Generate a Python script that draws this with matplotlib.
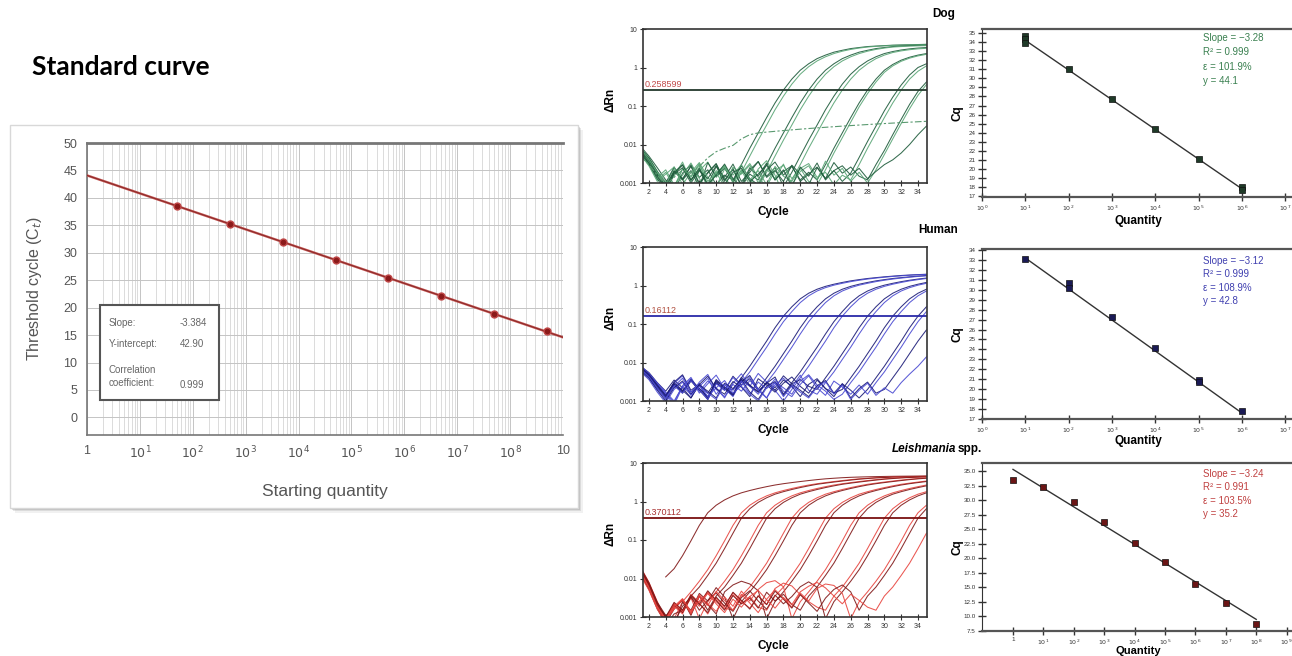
import numpy as np
import matplotlib.pyplot as plt
from matplotlib.patches import Rectangle
from matplotlib.ticker import NullLocator

plt.rcParams['font.family'] = ['Liberation Sans', 'DejaVu Sans']
nan = np.nan

# ---- left: standard curve ----
std_qty = [5e1, 5e2, 5e3, 5e4, 5e5, 5e6, 5e7, 5e8]
std_ct = [38.5, 35.2, 32.0, 28.7, 25.4, 22.1, 18.9, 15.7]
std_fit_x = [1, 1e9]
std_fit_y = [44.1, 14.6]
std_box = [('Slope:', '-3.384'), ('Y-intercept:', '42.90'), ('Correlation\ncoefficient:', '0.999')]

# ---- standard curves on the right ----
dog_qty = [10, 10, 10, 1e2, 1e3, 1e4, 1e5, 1e6, 1e6]
dog_cq = [34.7, 34.3, 33.9, 31.0, 27.7, 24.4, 21.1, 18.0, 17.7]
dog_fit_x = [10, 1e6]
dog_fit_y = [34.2, 17.8]
dog_stats = ['Slope = \u22123.28', 'R\u00b2 = 0.999', '\u03b5 = 101.9%', 'y = 44.1']

hum_qty = [10, 1e2, 1e2, 1e3, 1e4, 1e5, 1e5, 1e6]
hum_cq = [33.1, 30.7, 30.2, 27.3, 24.1, 20.9, 20.7, 17.8]
hum_fit_x = [10, 1e6]
hum_fit_y = [33.2, 17.6]
hum_stats = ['Slope = \u22123.12', 'R\u00b2 = 0.999', '\u03b5 = 108.9%', 'y = 42.8']

lei_qty = [1, 10, 1e2, 1e3, 1e4, 1e5, 1e6, 1e7, 1e8]
lei_cq = [33.4, 32.3, 29.7, 26.3, 22.7, 19.3, 15.6, 12.4, 8.7]
lei_fit_x = [1, 1e8]
lei_fit_y = [35.3, 9.5]
lei_stats = ['Slope = \u22123.24', 'R\u00b2 = 0.991', '\u03b5 = 103.5%', 'y = 35.2']

# ---- amplification plots: dRn per cycle (cycle 1, 2, ...) ----
dog_thr = 0.258599
dog_rn = [
    [0.009, 0.005, 0.0025, 0.0012, 0.0006, 0.0018, 0.003, 0.0014, 0.0022, 0.0009, 0.0016, 0.0012, 0.003, 0.008, 0.02, 0.05, 0.12, 0.26, 0.5, 0.85, 1.25, 1.7, 2.1, 2.5, 2.8, 3.1, 3.3, 3.5, 3.6, 3.7, 3.8, 3.85, 3.9, 3.95, 4.0],
    [0.007, 0.0045, 0.002, 0.0008, 0.0015, 0.0035, 0.0011, 0.0026, 0.0007, 0.0021, 0.0013, 0.0008, 0.0019, 0.005, 0.013, 0.032, 0.08, 0.18, 0.37, 0.67, 1.05, 1.48, 1.9, 2.3, 2.65, 2.95, 3.2, 3.4, 3.55, 3.65, 3.75, 3.82, 3.88, 3.92, 3.97],
    [0.006, 0.003, 0.0015, 0.0007, 0.002, 0.0012, 0.0028, 0.0009, 0.0019, 0.0032, 0.0011, 0.0024, 0.0008, 0.0017, 0.0012, 0.003, 0.008, 0.02, 0.05, 0.12, 0.26, 0.5, 0.85, 1.25, 1.7, 2.1, 2.5, 2.8, 3.1, 3.3, 3.5, 3.6, 3.7, 3.75, 3.8],
    [0.0085, 0.0042, 0.0018, 0.0009, 0.0024, 0.0013, 0.0006, 0.0021, 0.0035, 0.0014, 0.0027, 0.001, 0.0022, 0.0012, 0.0008, 0.0019, 0.005, 0.013, 0.032, 0.08, 0.18, 0.37, 0.67, 1.05, 1.48, 1.9, 2.3, 2.65, 2.95, 3.2, 3.4, 3.5, 3.6, 3.65, 3.7],
    [0.0075, 0.004, 0.0017, 0.0008, 0.0019, 0.003, 0.0012, 0.0022, 0.0009, 0.0027, 0.0014, 0.0031, 0.0011, 0.0019, 0.0036, 0.0015, 0.0025, 0.0008, 0.0019, 0.005, 0.013, 0.032, 0.08, 0.18, 0.37, 0.67, 1.05, 1.48, 1.9, 2.3, 2.6, 2.85, 3.05, 3.2, 3.3],
    [0.0065, 0.0035, 0.0014, 0.0022, 0.0009, 0.0016, 0.0033, 0.0013, 0.0007, 0.0018, 0.0029, 0.0012, 0.0021, 0.0009, 0.0023, 0.0038, 0.0016, 0.0005, 0.0012, 0.003, 0.008, 0.02, 0.05, 0.12, 0.26, 0.5, 0.85, 1.25, 1.7, 2.1, 2.45, 2.7, 2.9, 3.05, 3.15],
    [0.008, 0.0045, 0.002, 0.001, 0.0026, 0.0012, 0.0021, 0.0008, 0.0034, 0.0015, 0.0024, 0.0011, 0.0028, 0.0013, 0.0009, 0.0022, 0.0035, 0.0016, 0.0027, 0.0012, 0.0019, 0.0012, 0.003, 0.008, 0.02, 0.05, 0.12, 0.26, 0.5, 0.85, 1.2, 1.55, 1.85, 2.1, 2.3],
    [0.006, 0.003, 0.0012, 0.0019, 0.0008, 0.0023, 0.0014, 0.003, 0.0009, 0.0017, 0.0026, 0.0011, 0.0018, 0.0032, 0.0014, 0.0008, 0.0021, 0.0029, 0.0013, 0.0024, 0.0011, 0.0009, 0.0022, 0.006, 0.015, 0.038, 0.095, 0.21, 0.42, 0.75, 1.1, 1.45, 1.75, 2.0, 2.2],
    [0.007, 0.0038, 0.0016, 0.0008, 0.0021, 0.0013, 0.0027, 0.001, 0.0018, 0.0031, 0.0012, 0.0022, 0.0009, 0.0025, 0.0015, 0.0033, 0.0012, 0.002, 0.0028, 0.0011, 0.0017, 0.0026, 0.0013, 0.0021, 0.0011, 0.0018, 0.0046, 0.012, 0.03, 0.075, 0.17, 0.35, 0.64, 1.0, 1.25],
    [0.0055, 0.0028, 0.0011, 0.0017, 0.0026, 0.0009, 0.0019, 0.0034, 0.0014, 0.0008, 0.0023, 0.0016, 0.003, 0.0012, 0.0021, 0.0009, 0.0027, 0.0015, 0.0011, 0.0024, 0.0032, 0.0014, 0.0019, 0.0009, 0.0016, 0.0012, 0.003, 0.008, 0.02, 0.05, 0.12, 0.26, 0.5, 0.8, 1.1],
    [0.0068, 0.0033, 0.0015, 0.0007, 0.0018, 0.0029, 0.0012, 0.0024, 0.0009, 0.0016, 0.0031, 0.0013, 0.0008, 0.0022, 0.0036, 0.0014, 0.0021, 0.0011, 0.0029, 0.0017, 0.0009, 0.0025, 0.0013, 0.0034, 0.0018, 0.0026, 0.0015, 0.0012, 0.003, 0.007, 0.018, 0.045, 0.11, 0.24, 0.42],
    [0.0078, 0.0041, 0.0019, 0.0011, 0.0007, 0.0024, 0.0015, 0.0032, 0.0011, 0.0019, 0.0008, 0.0026, 0.0017, 0.0029, 0.001, 0.0023, 0.0013, 0.0031, 0.0009, 0.002, 0.0028, 0.0012, 0.0037, 0.0016, 0.0024, 0.0011, 0.0019, 0.001, 0.0022, 0.0055, 0.014, 0.035, 0.085, 0.19, 0.36],
    [0.006, 0.0032, 0.0013, 0.0006, 0.0017, 0.0025, 0.001, 0.0021, 0.0013, 0.0028, 0.0009, 0.0019, 0.0024, 0.0011, 0.0017, 0.0029, 0.0012, 0.0022, 0.0008, 0.0026, 0.0015, 0.0033, 0.0012, 0.0021, 0.0028, 0.0016, 0.0024, 0.0013, 0.002, 0.003, 0.004, 0.006, 0.01, 0.018, 0.03],
]
dog_dashed = [0.005, 0.003, 0.0016, 0.0009, 0.0014, 0.0022, 0.0018, 0.0027, 0.0045, 0.0065, 0.008, 0.0095, 0.014, 0.018, 0.02, 0.021, 0.022, 0.023, 0.024, 0.025, 0.026, 0.027, 0.028, 0.029, 0.03, 0.031, 0.032, 0.033, 0.034, 0.035, 0.036, 0.037, 0.038, 0.039, 0.04]

hum_thr = 0.16112
hum_rn = [
    [0.008, 0.0055, 0.003, 0.0018, 0.0035, 0.0022, 0.0012, 0.0028, 0.0016, 0.0034, 0.0021, 0.002, 0.004, 0.008, 0.017, 0.036, 0.08, 0.16, 0.28, 0.45, 0.63, 0.8, 0.95, 1.08, 1.2, 1.32, 1.42, 1.52, 1.6, 1.68, 1.75, 1.82, 1.87, 1.92, 1.96],
    [0.0072, 0.0048, 0.0026, 0.0014, 0.0029, 0.0045, 0.0017, 0.0024, 0.0039, 0.0015, 0.0027, 0.0015, 0.003, 0.0057, 0.012, 0.025, 0.055, 0.115, 0.21, 0.36, 0.54, 0.72, 0.88, 1.02, 1.14, 1.26, 1.37, 1.47, 1.56, 1.64, 1.72, 1.78, 1.85, 1.9, 1.94],
    [0.0065, 0.0042, 0.0021, 0.0013, 0.0031, 0.0048, 0.0019, 0.0027, 0.0011, 0.0036, 0.0023, 0.0014, 0.0032, 0.0046, 0.002, 0.004, 0.008, 0.017, 0.036, 0.08, 0.16, 0.28, 0.45, 0.63, 0.8, 0.95, 1.08, 1.2, 1.32, 1.42, 1.52, 1.6, 1.68, 1.75, 1.82],
    [0.0085, 0.005, 0.0028, 0.0016, 0.0009, 0.0025, 0.0041, 0.0018, 0.0033, 0.0022, 0.0012, 0.0029, 0.0051, 0.0024, 0.0015, 0.003, 0.0057, 0.012, 0.025, 0.055, 0.115, 0.21, 0.36, 0.54, 0.72, 0.88, 1.02, 1.14, 1.26, 1.37, 1.47, 1.56, 1.64, 1.72, 1.78],
    [0.007, 0.0046, 0.0024, 0.0012, 0.0027, 0.0017, 0.0035, 0.0021, 0.0013, 0.003, 0.0019, 0.0044, 0.0026, 0.0038, 0.0018, 0.0029, 0.0042, 0.0015, 0.003, 0.0057, 0.012, 0.025, 0.055, 0.115, 0.21, 0.36, 0.54, 0.72, 0.88, 1.02, 1.14, 1.26, 1.37, 1.47, 1.56],
    [0.0078, 0.005, 0.0027, 0.0015, 0.0008, 0.0023, 0.0038, 0.0016, 0.0028, 0.0047, 0.0021, 0.0013, 0.0034, 0.0024, 0.0052, 0.0031, 0.0019, 0.001, 0.002, 0.004, 0.008, 0.017, 0.036, 0.08, 0.16, 0.28, 0.45, 0.63, 0.8, 0.95, 1.08, 1.2, 1.32, 1.42, 1.52],
    [0.0068, 0.0044, 0.0023, 0.0012, 0.0026, 0.0016, 0.0033, 0.0019, 0.0011, 0.0029, 0.0021, 0.0014, 0.0037, 0.0025, 0.0017, 0.0031, 0.0022, 0.0045, 0.0028, 0.0036, 0.0024, 0.002, 0.004, 0.008, 0.017, 0.036, 0.08, 0.16, 0.28, 0.45, 0.63, 0.8, 0.95, 1.08, 1.2],
    [0.0082, 0.0052, 0.0029, 0.0017, 0.001, 0.0024, 0.0015, 0.0031, 0.0049, 0.002, 0.0013, 0.0027, 0.0018, 0.0034, 0.0021, 0.0012, 0.0026, 0.0039, 0.0023, 0.0047, 0.0019, 0.0015, 0.003, 0.0057, 0.012, 0.025, 0.055, 0.115, 0.21, 0.36, 0.54, 0.72, 0.88, 1.02, 1.14],
    [0.0074, 0.0047, 0.0025, 0.0013, 0.0028, 0.0018, 0.0036, 0.0021, 0.0012, 0.0032, 0.0023, 0.0015, 0.0041, 0.0026, 0.0017, 0.0029, 0.0019, 0.0035, 0.0024, 0.0013, 0.0027, 0.0038, 0.0021, 0.0016, 0.002, 0.004, 0.008, 0.017, 0.036, 0.08, 0.16, 0.28, 0.45, 0.63, 0.8],
    [0.0066, 0.0041, 0.002, 0.0011, 0.0024, 0.0039, 0.0017, 0.0028, 0.0013, 0.0022, 0.0034, 0.0016, 0.0025, 0.0043, 0.0019, 0.0012, 0.0031, 0.0022, 0.0015, 0.0033, 0.0048, 0.0026, 0.0018, 0.0011, 0.0015, 0.003, 0.0057, 0.012, 0.025, 0.055, 0.115, 0.21, 0.36, 0.54, 0.72],
    [0.0077, 0.0049, 0.0026, 0.0014, 0.003, 0.0019, 0.0012, 0.0027, 0.0044, 0.0021, 0.0015, 0.0032, 0.0023, 0.0013, 0.0038, 0.0026, 0.0017, 0.0029, 0.0042, 0.0024, 0.0016, 0.0035, 0.0021, 0.0013, 0.0028, 0.0019, 0.0012, 0.002, 0.004, 0.008, 0.017, 0.036, 0.08, 0.16, 0.28],
    [0.0069, 0.0043, 0.0022, 0.0012, 0.0025, 0.0016, 0.0034, 0.002, 0.0011, 0.0028, 0.0019, 0.0041, 0.0024, 0.0015, 0.0031, 0.0021, 0.0037, 0.0018, 0.0013, 0.0027, 0.0045, 0.0022, 0.0014, 0.0033, 0.0023, 0.0015, 0.0026, 0.0015, 0.003, 0.0057, 0.012, 0.025, 0.055, 0.115, 0.21],
    [0.0061, 0.0039, 0.0019, 0.001, 0.0022, 0.0033, 0.0015, 0.0026, 0.0018, 0.0012, 0.0029, 0.0021, 0.0036, 0.0017, 0.0011, 0.0024, 0.0032, 0.0014, 0.0027, 0.0019, 0.0013, 0.0025, 0.0034, 0.0016, 0.0028, 0.0012, 0.0021, 0.0031, 0.0016, 0.002, 0.004, 0.008, 0.017, 0.036, 0.07],
    [0.0058, 0.0036, 0.0017, 0.0009, 0.002, 0.0031, 0.0014, 0.0024, 0.0016, 0.0011, 0.0027, 0.0019, 0.0033, 0.0015, 0.001, 0.0022, 0.003, 0.0013, 0.0025, 0.0017, 0.0012, 0.0023, 0.0032, 0.0015, 0.0026, 0.0011, 0.0019, 0.0029, 0.0014, 0.0022, 0.0016, 0.003, 0.005, 0.008, 0.014],
]

lei_thr = 0.370112
lei_rn = [
    [nan, nan, nan, 0.011, 0.018, 0.039, 0.095, 0.24, 0.51, 0.8, 1.1, 1.4, 1.68, 1.93, 2.18, 2.43, 2.68, 2.9, 3.1, 3.3, 3.5, 3.7, 3.88, 4.02, 4.15, 4.25, 4.32, 4.38, 4.43, 4.47, 4.51, 4.54, 4.56, 4.58, 4.6],
    [0.018, 0.007, 0.002, 0.0008, 0.0009, 0.0025, 0.0045, 0.0085, 0.017, 0.039, 0.095, 0.24, 0.51, 0.8, 1.1, 1.4, 1.68, 1.93, 2.18, 2.43, 2.68, 2.9, 3.1, 3.3, 3.5, 3.7, 3.88, 4.02, 4.15, 4.25, 4.32, 4.38, 4.43, 4.47, 4.5],
    [0.014, 0.0055, 0.0018, 0.0006, 0.0012, 0.0015, 0.0035, 0.006, 0.012, 0.025, 0.06, 0.15, 0.37, 0.65, 0.95, 1.25, 1.55, 1.8, 2.05, 2.3, 2.55, 2.8, 3.0, 3.2, 3.4, 3.6, 3.8, 3.95, 4.1, 4.2, 4.3, 4.35, 4.4, 4.45, 4.5],
    [0.02, 0.008, 0.0025, 0.0009, 0.0021, 0.0013, 0.0032, 0.0009, 0.0025, 0.0045, 0.0085, 0.017, 0.039, 0.095, 0.24, 0.51, 0.8, 1.1, 1.4, 1.68, 1.93, 2.18, 2.43, 2.68, 2.9, 3.1, 3.3, 3.5, 3.7, 3.88, 4.02, 4.15, 4.25, 4.32, 4.38],
    [0.016, 0.0065, 0.002, 0.0007, 0.0016, 0.0028, 0.0011, 0.0035, 0.0015, 0.0035, 0.006, 0.012, 0.025, 0.06, 0.15, 0.37, 0.65, 0.95, 1.25, 1.55, 1.8, 2.05, 2.3, 2.55, 2.8, 3.0, 3.2, 3.4, 3.6, 3.8, 3.95, 4.1, 4.2, 4.3, 4.35],
    [0.019, 0.0075, 0.0022, 0.0008, 0.0019, 0.0012, 0.0036, 0.0024, 0.0045, 0.0028, 0.0017, 0.0015, 0.0035, 0.006, 0.012, 0.025, 0.06, 0.15, 0.37, 0.65, 0.95, 1.25, 1.55, 1.8, 2.05, 2.3, 2.55, 2.8, 3.0, 3.2, 3.4, 3.6, 3.8, 3.95, 4.1],
    [0.015, 0.006, 0.0019, 0.0011, 0.0006, 0.0024, 0.0015, 0.0041, 0.0026, 0.0058, 0.0033, 0.0009, 0.0025, 0.0045, 0.0085, 0.017, 0.039, 0.095, 0.24, 0.51, 0.8, 1.1, 1.4, 1.68, 1.93, 2.18, 2.43, 2.68, 2.9, 3.1, 3.3, 3.5, 3.7, 3.88, 4.02],
    [0.017, 0.007, 0.0021, 0.0009, 0.0023, 0.0014, 0.0031, 0.0019, 0.0042, 0.0025, 0.0016, 0.0038, 0.0022, 0.0034, 0.0018, 0.0015, 0.0035, 0.006, 0.012, 0.025, 0.06, 0.15, 0.37, 0.65, 0.95, 1.25, 1.55, 1.8, 2.05, 2.3, 2.55, 2.8, 3.0, 3.2, 3.4],
    [0.013, 0.0052, 0.0016, 0.0007, 0.0018, 0.0027, 0.0012, 0.0035, 0.0021, 0.0012, 0.0045, 0.0068, 0.0085, 0.0072, 0.0048, 0.0009, 0.0025, 0.0045, 0.0085, 0.017, 0.039, 0.095, 0.24, 0.51, 0.8, 1.1, 1.4, 1.68, 1.93, 2.18, 2.43, 2.68, 2.9, 3.1, 3.3],
    [0.016, 0.0068, 0.002, 0.0008, 0.0017, 0.0029, 0.0013, 0.0038, 0.0022, 0.0014, 0.0033, 0.0019, 0.0047, 0.0026, 0.0052, 0.0078, 0.0088, 0.0061, 0.0009, 0.0025, 0.0045, 0.0085, 0.017, 0.039, 0.095, 0.24, 0.51, 0.8, 1.1, 1.4, 1.68, 1.93, 2.18, 2.43, 2.68],
    [0.018, 0.0072, 0.0023, 0.001, 0.0021, 0.0013, 0.0034, 0.0021, 0.0048, 0.0027, 0.0015, 0.0036, 0.0022, 0.0031, 0.0017, 0.0044, 0.0026, 0.0039, 0.0021, 0.0015, 0.0035, 0.006, 0.012, 0.025, 0.06, 0.15, 0.37, 0.65, 0.95, 1.25, 1.55, 1.8, 2.05, 2.3, 2.55],
    [0.014, 0.0058, 0.0018, 0.0009, 0.0022, 0.0014, 0.0039, 0.0023, 0.0012, 0.0031, 0.0019, 0.0043, 0.0025, 0.0017, 0.0036, 0.0021, 0.0055, 0.0076, 0.0064, 0.0038, 0.0025, 0.0018, 0.0015, 0.0035, 0.006, 0.012, 0.025, 0.06, 0.15, 0.37, 0.65, 0.95, 1.25, 1.55, 1.8],
    [0.019, 0.0078, 0.0024, 0.0011, 0.0007, 0.0019, 0.0033, 0.0015, 0.0027, 0.0042, 0.0023, 0.0014, 0.0032, 0.0048, 0.0026, 0.0016, 0.0037, 0.0022, 0.0034, 0.0061, 0.0082, 0.0059, 0.0009, 0.0025, 0.0045, 0.0085, 0.017, 0.039, 0.095, 0.24, 0.51, 0.8, 1.1, 1.4, 1.68],
    [0.015, 0.0062, 0.0019, 0.0008, 0.0016, 0.0028, 0.0012, 0.0034, 0.002, 0.0046, 0.0027, 0.0015, 0.0039, 0.0023, 0.0013, 0.0029, 0.0051, 0.0031, 0.0018, 0.0042, 0.0026, 0.0055, 0.0072, 0.0066, 0.0041, 0.0009, 0.0025, 0.0045, 0.0085, 0.017, 0.039, 0.095, 0.24, 0.51, 0.8],
    [0.017, 0.0069, 0.0021, 0.001, 0.0024, 0.0015, 0.0037, 0.0022, 0.0013, 0.0033, 0.0019, 0.0044, 0.0027, 0.0016, 0.0035, 0.0021, 0.0047, 0.0029, 0.0017, 0.0038, 0.0023, 0.0014, 0.0031, 0.0052, 0.0068, 0.0045, 0.0015, 0.0035, 0.006, 0.012, 0.025, 0.06, 0.15, 0.37, 0.65],
    [0.012, 0.005, 0.0016, 0.0007, 0.0019, 0.003, 0.0014, 0.0026, 0.0041, 0.0022, 0.0013, 0.0029, 0.0018, 0.0034, 0.0049, 0.0028, 0.0017, 0.0032, 0.0021, 0.0045, 0.0063, 0.0079, 0.0057, 0.0035, 0.0022, 0.0039, 0.0027, 0.0018, 0.0015, 0.0035, 0.006, 0.012, 0.025, 0.06, 0.15],
]

W, H = 1292, 656
fig = plt.figure(figsize=(W / 100, H / 100), dpi=100)


def fx(x):
    return x / W


def fy(y):
    return 1 - y / H


def add_ax(left, top, right, bottom):
    return fig.add_axes([fx(left), fy(bottom), (right - left) / W, (bottom - top) / H])


# frame + shadow round the left picture
for off, a in [(5, 0.10), (3, 0.18), (1.5, 0.25)]:
    fig.add_artist(Rectangle((fx(10 + off), fy(508 + off)), 568 / W, 383 / H, transform=fig.transFigure,
                             facecolor='#777777', edgecolor='none', alpha=a, zorder=-3))
fig.add_artist(Rectangle((fx(10), fy(508)), 568 / W, 383 / H, transform=fig.transFigure,
                         facecolor='white', edgecolor='#d8d8d8', lw=1, zorder=-2))

fig.text(fx(32), fy(67), 'Standard curve', fontsize=19, fontweight='bold', family='Lato', va='center')

ax = add_ax(87, 143, 563, 435)
ax.set_xscale('log')
ax.set_xlim(1, 1e9)
ax.set_ylim(-3.2, 50)
ax.set_xticks([10 ** d for d in range(10)])
ax.set_xticklabels(['1'] + ['$10^{%d}$' % d for d in range(1, 9)] + ['10'])
ax.set_xticks([m * 10 ** d for d in range(9) for m in range(2, 10)], minor=True)
ax.set_yticks(range(0, 51, 5))
ax.grid(which='major', color='#c4c4c4', lw=0.7)
ax.grid(which='minor', axis='x', color='#d6d6d6', lw=0.6)
ax.set_axisbelow(True)
ax.tick_params(which='both', length=0)
ax.tick_params(labelsize=9, colors='#555555', pad=7)
for k in ['left', 'bottom', 'top']:
    ax.spines[k].set_color('#777777')
    ax.spines[k].set_linewidth(1.2)
ax.spines['top'].set_linewidth(2)
ax.spines['right'].set_visible(False)
ax.plot(std_fit_x, std_fit_y, color='#c0504d', lw=1.7, zorder=3)
ax.plot(std_fit_x, std_fit_y, color='#7a2020', lw=0.5, zorder=3)
ax.plot(std_qty, std_ct, 'o', ms=5, color='#8b1a1a', mec='#c04848', mew=1, zorder=4)
ax.set_ylabel('Threshold cycle (C$_t$)', fontsize=11.5, color='#555555', labelpad=14)
ax.set_xlabel('Starting quantity', fontsize=12.5, color='#555555', labelpad=16)
ax.add_patch(Rectangle((0.028, 0.12), 0.25, 0.325, transform=ax.transAxes, facecolor='white',
                       edgecolor='#555555', lw=1.5, zorder=5))
for (lab, val), yy in zip(std_box, [0.385, 0.31, 0.2]):
    ax.text(0.045, yy, lab, transform=ax.transAxes, fontsize=7, color='#666666', va='center', zorder=6,
            linespacing=1.4)
    ax.text(0.195, yy - (0.03 if '\n' in lab else 0), val, transform=ax.transAxes, fontsize=7,
            color='#666666', va='center', zorder=6)


def amp_panel(top, curves, thr, thr_lab, dark, light, thr_col, lab_col):
    a = add_ax(643, top, 927, top + 154)
    for i, v in enumerate(curves):
        a.plot(np.arange(1, len(v) + 1), v, color=dark if i % 2 == 0 else light, lw=0.75, alpha=0.9)
    a.axhline(thr, color=thr_col, lw=1.3)
    a.text(1.45, thr * 1.06, thr_lab, color=lab_col, fontsize=6.5, va='bottom')
    a.set_yscale('log')
    a.set_ylim(0.001, 10)
    a.set_xlim(1.3, 35.07)
    a.set_yticks([0.001, 0.01, 0.1, 1, 10])
    a.set_yticklabels(['0.001', '0.01', '0.1', '1', '10'])
    a.yaxis.set_minor_locator(NullLocator())
    a.set_xticks(range(2, 35, 2))
    a.tick_params(direction='inout', length=5, width=0.8, labelsize=5, pad=1.5, colors='#333333')
    for s in a.spines.values():
        s.set_color('#333333')
        s.set_linewidth(1.2)
    fig.text(fx(611), fy(top + 71), '\u0394Rn', rotation=90, ha='center', va='center', fontsize=8.5,
             fontweight='bold')
    fig.text(fx(773), fy(top + 183), 'Cycle', ha='center', va='center', fontsize=8.5, fontweight='bold')
    return a


def std_panel(top, bottom, xlim, ylim, yticks, ylabels, xticks, xlabels, qty, cq, fx_, fy_, mcol, stats,
              scol, stat_y, qlab_y, qlab_size=8.5, qlab_va='center'):
    a = add_ax(982, top, 1300, bottom)
    a.set_xscale('log')
    a.set_xlim(*xlim)
    a.set_ylim(*ylim)
    a.plot(fx_, fy_, color='#333333', lw=1)
    a.plot(qty, cq, 's', ms=4, color=mcol, mec='#111111', mew=0.5)
    a.set_yticks(yticks)
    a.set_yticklabels(ylabels)
    a.set_xticks(xticks)
    a.set_xticklabels(xlabels)
    a.xaxis.set_minor_locator(NullLocator())
    a.tick_params(direction='inout', length=6, width=1, labelsize=4.5, pad=1.5, colors='#333333')
    a.spines['right'].set_visible(False)
    for k in ['top', 'bottom']:
        a.spines[k].set_color('#555555')
        a.spines[k].set_linewidth(1.6)
    a.spines['left'].set_color('#333333')
    for s, yy in zip(stats, stat_y):
        fig.text(fx(1203), fy(yy), s, color=scol, fontsize=7, va='center')
    fig.text(fx(957), fy((top + bottom) / 2), 'Cq', rotation=90, ha='center', va='center', fontsize=8.5,
             fontweight='bold')
    fig.text(fx(1138), fy(qlab_y), 'Quantity', ha='center', va=qlab_va, fontsize=qlab_size,
             fontweight='bold')
    return a


# Dog
amp = amp_panel(29, dog_rn, dog_thr, '0.258599', '#1f5c3c', '#5aa676', '#23382c', '#c24a4a')
amp.plot(np.arange(1, len(dog_dashed) + 1), dog_dashed, color='#5a9a70', lw=0.8, dashes=(6, 2, 2, 2))
dec8 = [10 ** d for d in range(8)]
std_panel(29, 197, (1, 10 ** 7.34), (16.9, 35.45), range(17, 36), [str(v) for v in range(17, 36)],
          dec8, ['$10^{%d}$' % d for d in range(8)], dog_qty, dog_cq, dog_fit_x, dog_fit_y,
          '#1f3a28', dog_stats, '#3a8050', [38, 52, 67, 81], 221)
fig.text(fx(944), fy(14), 'Dog', ha='center', va='center', fontsize=8.5, fontweight='bold')

# Human
amp_panel(247, hum_rn, hum_thr, '0.16112', '#1c1c78', '#4a4ad2', '#2a2aa8', '#b05040')
std_panel(249, 419, (1, 10 ** 7.34), (17, 34.1), range(17, 35), [str(v) for v in range(17, 35)],
          dec8, ['$10^{%d}$' % d for d in range(8)], hum_qty, hum_cq, hum_fit_x, hum_fit_y,
          '#1a1a55', hum_stats, '#4040b0', [261, 274, 288, 301], 441)
fig.text(fx(938), fy(230), 'Human', ha='center', va='center', fontsize=8.5, fontweight='bold')

# Leishmania
amp_panel(463, lei_rn, lei_thr, '0.370112', '#801818', '#e8453f', '#7a1010', '#a83030')
lt = [7.5 + 2.5 * i for i in range(12)]
std_panel(463, 631, (10 ** -1.02, 10 ** 9.44), (7.5, 36.4), lt, ['%.1f' % v for v in lt],
          [10 ** d for d in range(10)], ['1'] + ['$10^{%d}$' % d for d in range(1, 10)],
          lei_qty, lei_cq, lei_fit_x, lei_fit_y, '#6a1515', lei_stats, '#c04040', [474, 487, 501, 514],
          655.5, qlab_size=8, qlab_va='bottom')
fig.text(fx(956), fy(449), 'Leishmania', ha='right', va='center', fontsize=8.5, fontweight='bold',
         fontstyle='italic')
fig.text(fx(958), fy(449), 'spp.', ha='left', va='center', fontsize=8.5, fontweight='bold')

fig.savefig('out.png', dpi=100)
